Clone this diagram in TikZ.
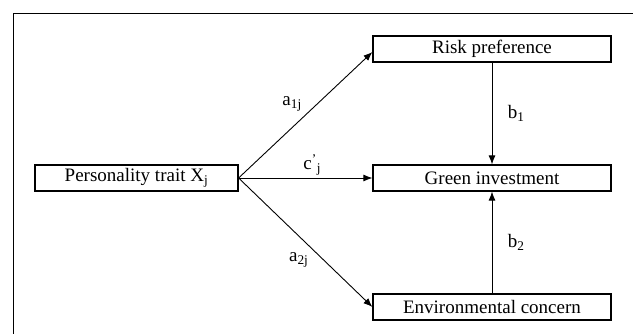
\documentclass[tikz,border=0pt]{standalone}
\usepackage{fontspec}
\setmainfont{Liberation Serif}
\usetikzlibrary{arrows.meta}
\begin{document}
\begin{tikzpicture}[x=1pt, y=-1pt, font=\fontsize{19}{22}\selectfont,
  box/.style={draw, line width=1.2pt, inner sep=0pt, minimum height=26pt, minimum width=238pt},
  arr/.style={->, >={Latex[length=9pt,width=7pt]}, line width=0.9pt}]
  \useasboundingbox (0,0) rectangle (633,334);
  \draw[line width=1pt] (633,14) -- (13,14) -- (13,334);

  \node[box, minimum width=203pt] (0) at (136.5,178) {Personality trait X\textsubscript{j}};
  \node[box] (1) at (492,49) {Risk preference};
  \node[box] (2) at (492,178) {Green investment};
  \node[box] (3) at (492,307) {Environmental concern};

  \draw (0.east) edge[arr] node[above left, pos=0.5] {a\textsubscript{1j}} ([yshift=-3pt]1.west);
  \draw (0) edge[arr] node[above, inner sep=2pt, pos=0.55] {c\textsuperscript{'}\textsubscript{j}} (2);
  \draw (0.east) edge[arr] node[below left, pos=0.55] {a\textsubscript{2j}} (3.west);
  \draw (1) edge[arr] node[right=12pt] {b\textsubscript{1}} (2);
  \draw (3) edge[arr] node[right=12pt] {b\textsubscript{2}} (2);
\end{tikzpicture}
\end{document}
